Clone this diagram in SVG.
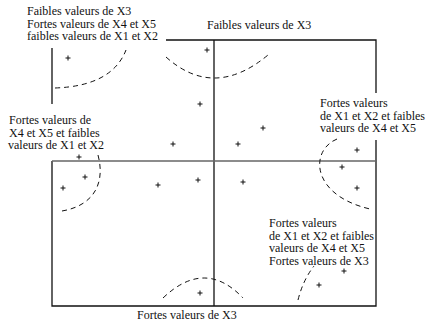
<svg xmlns="http://www.w3.org/2000/svg" width="427" height="322" viewBox="0 0 427 322">
<style>
.t{font-family:'Liberation Serif','Times New Roman','DejaVu Serif',serif;font-size:12px;fill:#111}
.ln{stroke:#111;stroke-width:1.3;fill:none}
.mid{stroke:#666;stroke-width:1.6;fill:none}
.dash{stroke:#111;stroke-width:1;fill:none;stroke-dasharray:5 4}
.pt{stroke:#111;stroke-width:1;fill:none}
</style>
<defs>
<path id="p" d="M-2.5,0H2.5M0,-2.5V2.5"/>
</defs>
<g id="connectors">
<path class="ln" d="M166,40H376V93M376,140V306H52V161M52,104V48"/>
<path class="ln" d="M214,40V306"/>
<path class="mid" d="M52,161H376"/>
<path class="dash" d="M55,88 Q112,86 126,50"/>
<path class="dash" d="M166,57 Q214,100 268,55"/>
<path class="dash" d="M98,155 C106,185 92,206 62,211"/>
<path class="dash" d="M337,139 C310,150 310,195 370,209"/>
<path class="dash" d="M163,298 Q205,258 243,298"/>
<path class="dash" d="M298,300 Q303,280 314,266"/>
</g>
<g id="points" class="pt">
<use href="#p" x="68" y="58"/>
<use href="#p" x="207" y="50"/>
<use href="#p" x="200" y="104"/>
<use href="#p" x="173" y="144"/>
<use href="#p" x="79" y="157"/>
<use href="#p" x="85" y="177"/>
<use href="#p" x="63" y="188"/>
<use href="#p" x="158" y="185"/>
<use href="#p" x="198" y="180"/>
<use href="#p" x="263" y="128"/>
<use href="#p" x="238" y="144"/>
<use href="#p" x="357" y="150"/>
<use href="#p" x="342" y="167"/>
<use href="#p" x="243" y="182"/>
<use href="#p" x="357" y="188"/>
<use href="#p" x="200" y="293"/>
<use href="#p" x="344" y="271"/>
<use href="#p" x="319" y="285"/>
</g>
<g id="label-top-left" class="t" font-family="Liberation Serif, serif">
<text x="27" y="15">Faibles valeurs de X3</text>
<text x="27" y="27.5">Fortes valeurs de X4 et X5</text>
<text x="27" y="40">faibles valeurs de X1 et X2</text>
</g>
<g id="label-top" class="t" font-family="Liberation Serif, serif">
<text x="207" y="28.5">Faibles valeurs de X3</text>
</g>
<g id="label-right" class="t" font-family="Liberation Serif, serif">
<text x="320" y="107">Fortes valeurs</text>
<text x="320" y="119.5">de X1 et X2 et faibles</text>
<text x="320" y="132">valeurs de X4 et X5</text>
</g>
<g id="label-left" class="t" font-family="Liberation Serif, serif">
<text x="9" y="124">Fortes valeurs de</text>
<text x="9" y="136.5">X4 et X5 et faibles</text>
<text x="8" y="149">valeurs de X1 et X2</text>
</g>
<g id="label-bottom-right" class="t" font-family="Liberation Serif, serif">
<text x="269" y="227">Fortes valeurs</text>
<text x="269" y="239.5">de X1 et X2 et faibles</text>
<text x="269" y="252">valeurs de X4 et X5</text>
<text x="269" y="264.5">Fortes valeurs de X3</text>
</g>
<g id="label-bottom" class="t" font-family="Liberation Serif, serif">
<text x="137" y="319">Fortes valeurs de X3</text>
</g>
</svg>
